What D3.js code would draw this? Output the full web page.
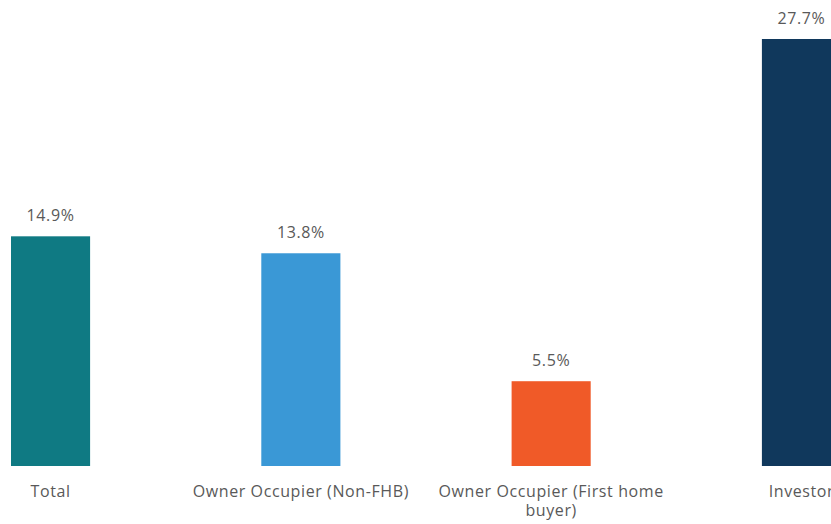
<!DOCTYPE html>
<html>
<head>
<meta charset="utf-8">
<script src="https://cdn.jsdelivr.net/npm/d3@7/dist/d3.min.js"></script>
<style>
  html, body { margin: 0; padding: 0; background: #ffffff; overflow: hidden; }
  svg { display: block; }
  text { font-family: "Open Sans", "Noto Sans", sans-serif; fill: #595959; letter-spacing: 0.6px; }
</style>
</head>
<body>
<svg id="chart" width="831" height="524"></svg>
<script>
// Share of new lending by borrower type (%)
const categories = ["Total", "Owner Occupier (Non-FHB)", "Owner Occupier (First home buyer)", "Investor"];
const values = [14.9, 13.8, 5.5, 27.7];
const colors = ["#0f7a83", "#3a98d6", "#f05a28", "#10385c"];

const svg = d3.select("#chart");
const baseline = 466;

// Bands extend past the right edge; the last bar is partly outside the frame
const x = d3.scaleBand()
  .domain(categories)
  .range([-74.6, 926.6])
  .paddingInner(0.684)
  .paddingOuter(0.342);

const y = d3.scaleLinear()
  .domain([0, 27.7])
  .range([baseline, 39]);

svg.selectAll("rect.bar")
  .data(categories)
  .join("rect")
  .attr("class", "bar")
  .attr("x", d => x(d))
  .attr("width", x.bandwidth())
  .attr("y", (d, i) => y(values[i]))
  .attr("height", (d, i) => baseline - y(values[i]))
  .attr("fill", (d, i) => colors[i]);

// Value labels above each bar
svg.selectAll("text.value")
  .data(categories)
  .join("text")
  .attr("class", "value")
  .attr("x", d => x(d) + x.bandwidth() / 2)
  .attr("y", (d, i) => y(values[i]) - 15)
  .attr("text-anchor", "middle")
  .style("font-size", "16px")
  .text((d, i) => values[i].toFixed(1) + "%");

// Category labels along the bottom, wrapped to the band step
const maxWidth = 245;
const labels = svg.selectAll("text.cat")
  .data(categories)
  .join("text")
  .attr("class", "cat")
  .attr("text-anchor", "middle")
  .style("font-size", "16px")
  .attr("x", d => x(d) + x.bandwidth() / 2)
  .attr("y", 497);

labels.each(function(d) {
  const t = d3.select(this);
  const words = d.split(" ");
  const cx = +t.attr("x");
  let line = [];
  let tspan = t.append("tspan").attr("x", cx).attr("dy", 0);
  words.forEach(w => {
    line.push(w);
    tspan.text(line.join(" "));
    if (tspan.node().getComputedTextLength() > maxWidth && line.length > 1) {
      line.pop();
      tspan.text(line.join(" "));
      line = [w];
      tspan = t.append("tspan").attr("x", cx).attr("dy", "1.2em").text(w);
    }
  });
});
</script>
</body>
</html>
